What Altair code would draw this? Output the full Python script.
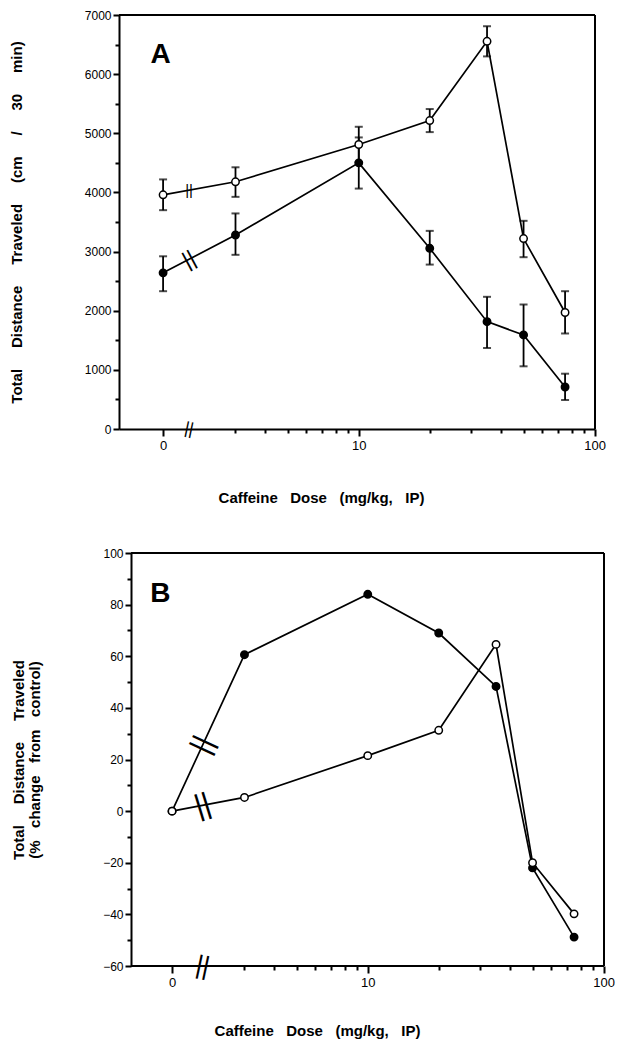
import math
import altair as alt
import pandas as pd

FONT = "Liberation Sans"

# ---------------- data ----------------
doses = [0, 3, 10, 20, 35, 50, 75]
control_x = 0.17          # where the control (0 mg/kg) group sits on the log axis

a_open_mean = [3960, 4180, 4810, 5215, 6555, 3220, 1970]
a_open_lo = [3700, 3925, 4510, 5020, 6300, 2905, 1615]
a_open_hi = [4220, 4425, 5110, 5410, 6810, 3520, 2330]
a_fill_mean = [2640, 3280, 4500, 3055, 1815, 1590, 710]
a_fill_lo = [2330, 2945, 4065, 2780, 1370, 1060, 490]
a_fill_hi = [2920, 3645, 4930, 3350, 2235, 2105, 935]

b_open = [0, 5.3, 21.5, 31.3, 64.6, -20, -39.8]
b_fill = [0, 60.6, 84, 69, 48.3, -22, -48.8]

minor_doses = [3, 4, 5, 6, 7, 8, 9, 20, 30, 40, 50, 60, 70, 80, 90]
major_doses = [0, 10, 100]
major_labels = ["0", "10", "100"]

a_xdomain = [-0.017, 2.002]
b_xdomain = [-0.055, 2.002]
b_axis_start = -0.004
a_ydomain = [0, 7000]
b_ydomain = [-60, 100]
a_break_x = 0.28
b_break_x = 0.30
# (which line, rotation, glyph size)
a_breaks = [("axis", 12, 17), ("open", 0, 15), ("filled", 332, 22)]
b_breaks = [("axis", 12, 26), ("open", 343, 30), ("filled", 295, 30)]

panel_letters = ["A", "B"]
letter_x = [0.16, 0.12]
letter_y = [6330, 84]


def nb(n):
    return "\u00a0" * n


x_title = nb(3).join(["Caffeine", "Dose", "(mg/kg,", "IP)"])
a_y_title = nb(5).join(["Total", "Distance", "Traveled", "(cm", "/", "30", "min)"])
b_y_title = [nb(5).join(["Total", "Distance", "Traveled"]),
             nb(3).join(["(%", "change", "from", "control)"])]


def xpos(d):
    return control_x if d == 0 else math.log10(d)


xs = [xpos(d) for d in doses]
major_pos = [xpos(d) for d in major_doses]
tick_vals = sorted(major_pos + [math.log10(d) for d in minor_doses])

label_expr = " : ".join(
    f"abs(datum.value - {p}) < 0.001 ? '{l}'" for p, l in zip(major_pos, major_labels)
) + " : ''"
major_test = " || ".join(f"abs(datum.value - {p}) < 0.001" for p in major_pos)

x_axis_common = dict(values=tick_vals, labelExpr=label_expr, tickCount=200,
                     tickSize={"condition": {"test": major_test, "value": 7}, "value": 4},
                     labelFontSize=13, labelPadding=3, title=x_title, grid=False,
                     labelOverlap=False, labelFlush=False)


def series_df(means, los, his, name):
    return pd.DataFrame({"x": xs, "y": means, "lo": los, "hi": his, "s": name})


def break_df(specs, bx, series_means, y0):
    rows = []
    for which, ang, fs in specs:
        if which == "axis":
            yv = y0
        else:
            m = series_means[which]
            yv = m[0] + (m[1] - m[0]) * (bx - xs[0]) / (xs[1] - xs[0])
        rows.append({"x": bx, "y": yv, "ang": ang, "fs": fs, "t": "||"})
    return pd.DataFrame(rows)


def panel(df_lines, has_err, xdom, ydom, yvals, ylabel_step, ytitle, width, height,
          breaks, letter, lx, ly, x_axis, y_axis_extra, draw_bottom=False, axis_start=None):
    xsc = alt.Scale(domain=xdom, nice=False, zero=False)
    ysc = alt.Scale(domain=ydom, nice=False, zero=False)
    y_axis = alt.Axis(values=yvals, format="d", tickCount=200,
                      labelExpr=f"datum.value % {ylabel_step} === 0 ? datum.label : ''",
                      tickSize={"condition": {"test": f"datum.value % {ylabel_step} === 0", "value": 6},
                                "value": 4},
                      labelFontSize=12, grid=False, title=ytitle, labelOverlap=False,
                      **y_axis_extra)
    base = alt.Chart(df_lines)
    X = alt.X("x:Q", scale=xsc, axis=x_axis)
    Y = alt.Y("y:Q", scale=ysc, axis=y_axis)
    layers = []
    lines = base.mark_line(color="black", strokeWidth=1.7).encode(x=X, y=Y, detail="s:N")
    layers.append(lines)
    if has_err:
        err = base.mark_rule(color="black", strokeWidth=1.8).encode(
            x="x:Q", y="lo:Q", y2="hi:Q")
        cap_lo = base.mark_tick(color="black", orient="horizontal", size=8, thickness=2).encode(
            x="x:Q", y="lo:Q")
        cap_hi = base.mark_tick(color="black", orient="horizontal", size=8, thickness=2).encode(
            x="x:Q", y="hi:Q")
        layers += [err, cap_lo, cap_hi]
    pts = base.mark_point(shape="circle", filled=True, size=55, stroke="black",
                          strokeWidth=1.5, opacity=1).encode(
        x="x:Q", y="y:Q",
        fill=alt.Fill("s:N", scale=alt.Scale(domain=["filled", "open"], range=["black", "white"]),
                      legend=None),
        order=alt.Order("s:N", sort="ascending"))
    layers.append(pts)
    brk = alt.Chart(breaks).mark_text(font=FONT, baseline="middle", align="center",
                                      color="black").encode(
        x="x:Q", y="y:Q", text="t:N",
        angle=alt.Angle("ang:Q", scale=None), size=alt.Size("fs:Q", scale=None))
    layers.append(brk)
    let = alt.Chart(pd.DataFrame({"x": [lx], "y": [ly], "t": [letter]})).mark_text(
        font=FONT, fontSize=28, fontWeight="bold", color="black").encode(
        x="x:Q", y="y:Q", text="t:N")
    layers.append(let)
    frame = alt.Chart(pd.DataFrame({"a": [0]}))
    top = frame.mark_rule(color="black", strokeWidth=2).encode(
        x=alt.datum(axis_start if axis_start is not None else xdom[0]),
        x2=alt.datum(xdom[1]), y=alt.datum(ydom[1]))
    right = frame.mark_rule(color="black", strokeWidth=2).encode(
        x=alt.datum(xdom[1]), y=alt.datum(ydom[0]), y2=alt.datum(ydom[1]))
    layers += [top, right]
    if draw_bottom:
        bottom = frame.mark_rule(color="black", strokeWidth=2).encode(
            x=alt.datum(axis_start), x2=alt.datum(xdom[1]), y=alt.datum(ydom[0]))
        layers.append(bottom)
    return alt.layer(*layers).properties(width=width, height=height)


dfA = pd.concat([series_df(a_open_mean, a_open_lo, a_open_hi, "open"),
                 series_df(a_fill_mean, a_fill_lo, a_fill_hi, "filled")])
dfB = pd.concat([series_df(b_open, b_open, b_open, "open"),
                 series_df(b_fill, b_fill, b_fill, "filled")])

brA = break_df(a_breaks, a_break_x, {"open": a_open_mean, "filled": a_fill_mean}, a_ydomain[0])
brB = break_df(b_breaks, b_break_x, {"open": b_open, "filled": b_fill}, b_ydomain[0])

chartA = panel(dfA, True, a_xdomain, a_ydomain, list(range(0, 7001, 500)), 1000, a_y_title,
               476, 414, brA, panel_letters[0], letter_x[0], letter_y[0],
               alt.Axis(titlePadding=38, titleX=202, **x_axis_common),
               dict(titlePadding=60))

chartB = panel(dfB, False, b_xdomain, b_ydomain, list(range(-60, 101, 10)), 20, b_y_title,
               485, 413, brB, panel_letters[1], letter_x[1], letter_y[1],
               alt.Axis(titlePadding=34, titleX=198, domain=False, **x_axis_common),
               dict(titlePadding=60, offset=-12, titleLineHeight=16),
               draw_bottom=True, axis_start=b_axis_start)

chart = alt.vconcat(chartA, chartB, spacing=40).properties(
    padding={"left": 0, "top": 0, "right": 0, "bottom": 0}
).configure_view(stroke="transparent").configure_axis(
    domainColor="black", domainWidth=2, tickColor="black", tickWidth=2,
    labelColor="black", labelFont=FONT, titleFont=FONT, titleColor="black",
    titleFontSize=15, titleFontWeight="bold"
)

chart.save("out.html", embed_options={"renderer": "svg", "actions": False})
